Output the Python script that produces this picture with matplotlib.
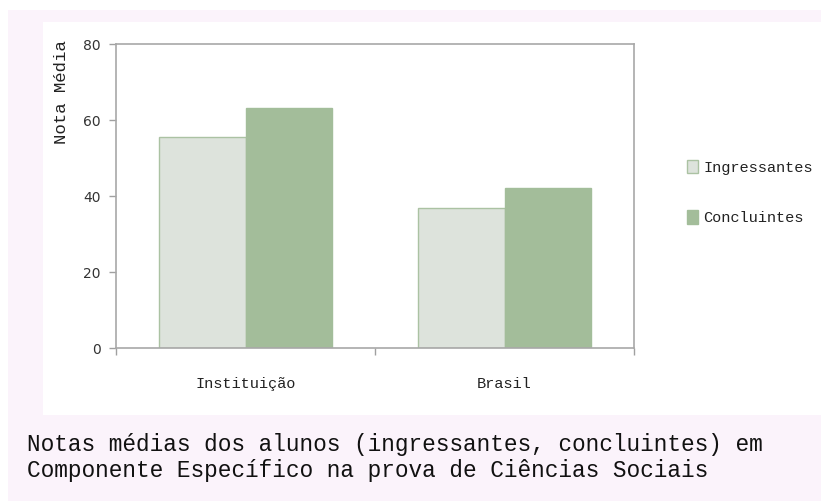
import matplotlib.pyplot as plt
import numpy as np
from matplotlib.patches import Rectangle

categorias = ['Instituição', 'Brasil']
ingressantes = [55.5, 36.8]
concluintes = [63.2, 42.2]
series = ['Ingressantes', 'Concluintes']
yticks = [0, 20, 40, 60, 80]

W, H = 821, 501
fig = plt.figure(figsize=(W / 100, H / 100), dpi=100)
fig.patch.set_facecolor('white')

# fundo rosado com a moldura branca do gráfico
def px_rect(x0, y0, x1, y1, cor):
    fig.patches.append(Rectangle((x0 / W, 1 - y1 / H), (x1 - x0) / W, (y1 - y0) / H,
                                 transform=fig.transFigure, facecolor=cor,
                                 edgecolor='none', zorder=-10))

px_rect(8, 10, 821, 501, '#fbf3fb')
px_rect(43, 22, 821, 415, 'white')

ax = fig.add_axes([116 / W, 1 - 348 / H, (634 - 116) / W, (348 - 44) / H])
ax.set_facecolor('white')

x = np.arange(len(categorias))
w = 1 / 3
ax.bar(x - w / 2, ingressantes, w, color='#dde3dc', edgecolor='#abc2a3',
       linewidth=1, label=series[0])
ax.bar(x + w / 2, concluintes, w, color='#a3bd9a', edgecolor='#a3bd9a',
       linewidth=1, label=series[1])

ax.set_xlim(-0.5, 1.5)
ax.set_ylim(0, 80)
ax.set_yticks(yticks)
ax.set_yticklabels([str(v) for v in yticks], fontsize=10, color='#333333')
ax.set_xticks([-0.5, 0.5, 1.5])
ax.set_xticklabels([])
ax.tick_params(axis='both', color='#a0a0a0', length=5, width=1)
ax.tick_params(axis='y', pad=6)
for s in ax.spines.values():
    s.set_color('#a8a8a8')
    s.set_linewidth(1.2)

mono = 'Liberation Mono'
for xi, nome in zip(x, categorias):
    ax.text(xi, -9.5, nome, ha='center', va='center', fontsize=11,
            family=mono, color='#222222')

fig.text(61 / W, 1 - 92 / H, 'Nota Média', rotation=90, ha='center', va='center',
         fontsize=12.5, family=mono, color='#222222')

leg = ax.legend(loc='upper left', bbox_to_anchor=(679 / W, 1 - 152 / H),
                bbox_transform=fig.transFigure, frameon=False,
                prop={'family': mono, 'size': 11},
                handlelength=0.75, handleheight=1.0, handletextpad=0.35,
                labelspacing=2.3, borderpad=0)
for t in leg.get_texts():
    t.set_color('#222222')

fig.text(27 / W, 1 - 445 / H, 'Notas médias dos alunos (ingressantes, concluintes) em',
         ha='left', va='center', fontsize=16.4, family=mono, color='#111111')
fig.text(27 / W, 1 - 471 / H, 'Componente Específico na prova de Ciências Sociais',
         ha='left', va='center', fontsize=16.4, family=mono, color='#111111')

fig.savefig('out.png', dpi=100)
